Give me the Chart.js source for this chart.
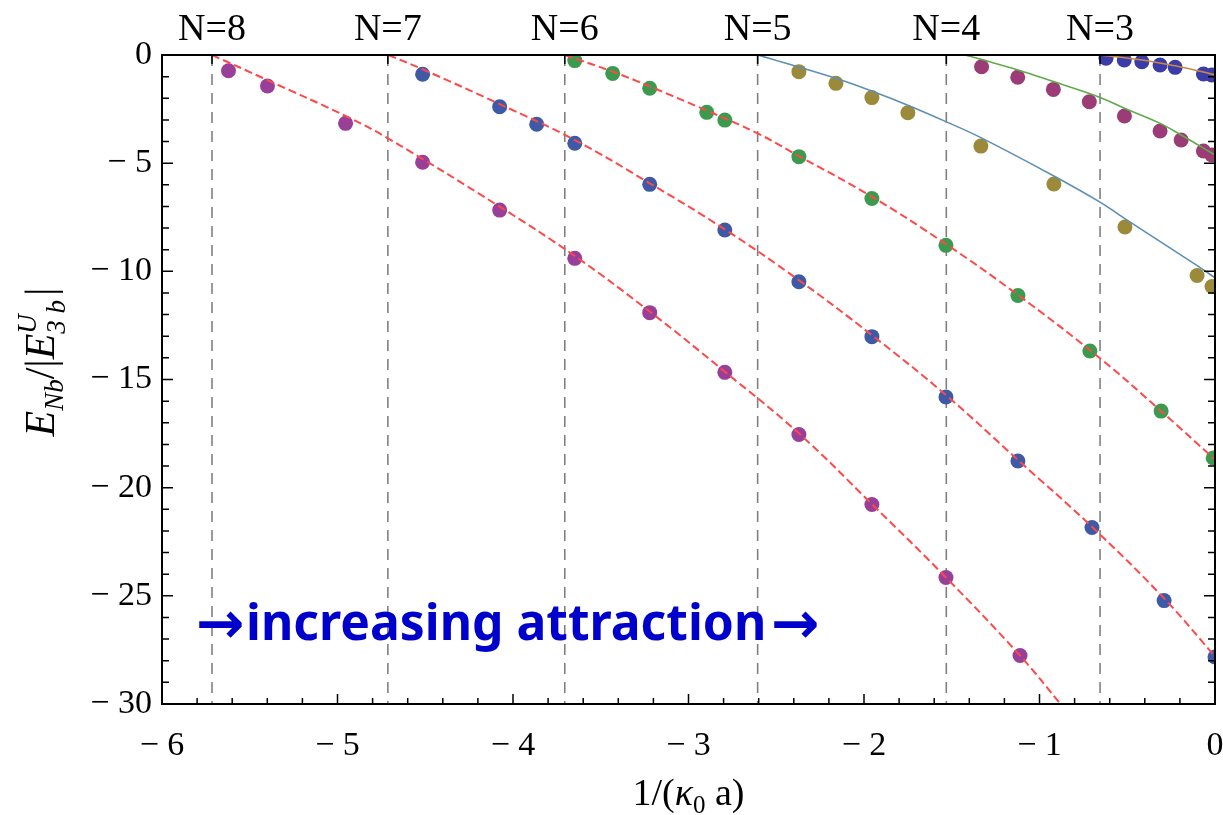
<!DOCTYPE html>
<html>
<head>
<meta charset="utf-8">
<script src="https://cdn.jsdelivr.net/npm/chart.js@4.4.1/dist/chart.umd.min.js"></script>
<style>
  body { margin: 0; background: #fff; }
</style>
</head>
<body>
<canvas id="chart" width="1223" height="815"></canvas>
<script>
// thresholds (dashed verticals) and their labels on top
const thresholdX = [-5.715, -4.713, -3.705, -2.606, -1.531, -0.655];
const thresholdLabels = ["N=8", "N=7", "N=6", "N=5", "N=4", "N=3"];

// computed energies (dots)
const n8X = [-5.621, -5.399, -4.954, -4.515, -4.076, -3.648, -3.221, -2.793, -2.371, -1.955, -1.533, -1.111];
const n8Y = [-0.73, -1.43, -3.16, -4.96, -7.17, -9.40, -11.91, -14.67, -17.54, -20.78, -24.15, -27.76];
const n7X = [-4.515, -4.076, -3.865, -3.648, -3.221, -2.793, -2.371, -1.955, -1.533, -1.123, -0.701, -0.290, 0];
const n7Y = [-0.89, -2.39, -3.20, -4.08, -5.98, -8.09, -10.48, -13.02, -15.81, -18.77, -21.84, -25.22, -27.83];
const n6X = [-3.648, -3.432, -3.221, -2.896, -2.793, -2.371, -1.955, -1.533, -1.123, -0.713, -0.307, -0.01];
const n6Y = [-0.26, -0.85, -1.54, -2.65, -3.01, -4.70, -6.63, -8.80, -11.12, -13.68, -16.46, -18.63];
const n5X = [-2.371, -2.160, -1.955, -1.750, -1.334, -0.918, -0.513, -0.102, -0.017];
const n5Y = [-0.77, -1.31, -1.97, -2.67, -4.21, -5.96, -7.95, -10.19, -10.70];
const n4X = [-1.330, -1.124, -0.921, -0.716, -0.516, -0.313, -0.193, -0.066, -0.018];
const n4Y = [-0.54, -1.03, -1.59, -2.16, -2.82, -3.51, -3.93, -4.44, -4.62];
const n3X = [-0.621, -0.517, -0.417, -0.313, -0.227, -0.066, -0.018];
const n3Y = [-0.15, -0.23, -0.31, -0.46, -0.57, -0.88, -0.92];

// fitted curves
const fit8X = [-5.715, -5.399, -4.954, -4.713, -4.076, -3.648, -3.221, -2.793, -2.371, -1.955, -1.533, -1.111, -0.88];
const fit8Y = [0, -1.16, -2.82, -3.85, -7.01, -9.29, -11.86, -14.64, -17.49, -20.76, -24.15, -27.76, -30.0];
const fit7X = [-4.71, -4.515, -4.076, -3.648, -3.221, -2.793, -2.371, -1.955, -1.533, -1.123, -0.701, -0.290, 0];
const fit7Y = [0, -0.66, -2.27, -3.93, -5.93, -8.06, -10.41, -12.95, -15.72, -18.72, -21.81, -25.12, -27.8];
const fit6X = [-3.705, -3.432, -3.221, -2.896, -2.607, -2.371, -1.955, -1.533, -1.123, -0.655, -0.313, 0];
const fit6Y = [0, -0.77, -1.45, -2.57, -3.62, -4.67, -6.55, -8.74, -11.09, -14.02, -16.42, -18.7];
const fit5X = [-2.605, -2.183, -1.938, -1.75, -1.533, -1.334, -0.921, -0.655, -0.516, -0.108, 0];
const fit5Y = [0, -1.02, -1.72, -2.32, -3.08, -3.82, -5.58, -6.80, -7.55, -9.70, -10.30];
const fit4X = [-1.425, -1.334, -1.123, -0.921, -0.655, -0.516, -0.313, -0.193, 0];
const fit4Y = [0, -0.2, -0.69, -1.23, -1.96, -2.46, -3.16, -3.70, -4.62];
const fit3X = [-0.655, -0.416, -0.227, -0.066, 0];
const fit3Y = [0, -0.23, -0.50, -0.79, -0.92];

const serif = "'Liberation Serif', 'DejaVu Serif', serif";

function pts(xs, ys) {
  return xs.map((x, i) => ({ x: x, y: ys[i] }));
}

function dots(xs, ys, color) {
  return {
    data: pts(xs, ys),
    showLine: false,
    pointRadius: 7.5,
    pointBackgroundColor: color,
    pointBorderWidth: 0,
    order: 1,
    clip: 0,
  };
}

function curve(xs, ys, color, dashed) {
  return {
    data: pts(xs, ys),
    showLine: true,
    borderColor: color,
    borderWidth: dashed ? 2 : 1.6,
    borderDash: dashed ? [8, 4] : [],
    pointRadius: 0,
    tension: 0.4,
    order: 0,
    clip: 0,
  };
}

const datasets = [];
thresholdX.forEach((x) => {
  datasets.push({
    data: [{ x: x, y: 0 }, { x: x, y: -30 }],
    showLine: true,
    borderColor: "#808080",
    borderWidth: 1.6,
    borderDash: [11, 8],
    pointRadius: 0,
    order: 2,
  });
});
datasets.push(dots(n8X, n8Y, "#983f99"));
datasets.push(dots(n7X, n7Y, "#3e5aa6"));
datasets.push(dots(n6X, n6Y, "#3c9a4f"));
datasets.push(dots(n5X, n5Y, "#9c8a3b"));
datasets.push(dots(n4X, n4Y, "#9b3c76"));
datasets.push(dots(n3X, n3Y, "#3c3ca8"));
datasets.push(curve(fit8X, fit8Y, "#ff4848", true));
datasets.push(curve(fit7X, fit7Y, "#ff4848", true));
datasets.push(curve(fit6X, fit6Y, "#ff4848", true));
datasets.push(curve(fit5X, fit5Y, "#5d8fb3", false));
datasets.push(curve(fit4X, fit4Y, "#5fab4a", false));
datasets.push(curve(fit3X, fit3Y, "#c98a45", false));

// draws a row of text pieces (for sub/superscripts), centred at 0
function richText(ctx, pieces) {
  let total = 0;
  pieces.forEach((p) => {
    ctx.font = p.font;
    p.w = p.w || ctx.measureText(p.text).width;
    total += p.adv !== undefined ? p.adv : p.w;
  });
  let x = -total / 2;
  pieces.forEach((p) => {
    ctx.font = p.font;
    ctx.fillText(p.text, x, p.dy || 0);
    x += p.adv !== undefined ? p.adv : p.w;
  });
}

const decor = {
  id: "decor",
  afterDraw(chart) {
    const ctx = chart.ctx;
    const a = chart.chartArea;
    const xs = chart.scales.x;
    const ys = chart.scales.y;
    ctx.save();
    ctx.strokeStyle = "#000";
    ctx.lineWidth = 2;
    ctx.strokeRect(a.left, a.top, a.right - a.left, a.bottom - a.top);

    // inward ticks
    ctx.lineWidth = 1.5;
    ctx.beginPath();
    for (let i = 0; i <= 30; i++) {
      const v = -6 + i * 0.2;
      const px = xs.getPixelForValue(v);
      const len = i % 5 === 0 ? 10 : 6;
      ctx.moveTo(px, a.bottom);
      ctx.lineTo(px, a.bottom - len);
    }
    for (let i = 0; i <= 30; i++) {
      const py = ys.getPixelForValue(-i);
      const len = i % 5 === 0 ? 11 : 7;
      ctx.moveTo(a.left, py);
      ctx.lineTo(a.left + len, py);
      ctx.moveTo(a.right, py);
      ctx.lineTo(a.right - len, py);
    }
    thresholdX.forEach((x) => {
      const px = xs.getPixelForValue(x);
      ctx.moveTo(px, a.top);
      ctx.lineTo(px, a.top + 9);
    });
    ctx.stroke();

    // N labels on top
    ctx.fillStyle = "#000";
    ctx.textAlign = "center";
    ctx.textBaseline = "alphabetic";
    ctx.font = "38px " + serif;
    thresholdX.forEach((x, i) => {
      ctx.fillText(thresholdLabels[i], xs.getPixelForValue(x), 40);
    });

    // x axis title
    ctx.textAlign = "left";
    ctx.save();
    ctx.translate((a.left + a.right) / 2, 805);
    richText(ctx, [
      { text: "1/(", font: "38px " + serif },
      { text: "\u03ba", font: "italic 38px " + serif },
      { text: "0", font: "25px " + serif, dy: 8 },
      { text: " a)", font: "38px " + serif },
    ]);
    ctx.restore();

    // y axis title
    ctx.save();
    ctx.translate(54, 362);
    ctx.rotate(-Math.PI / 2);
    ctx.font = "italic 27px " + serif;
    const wU = ctx.measureText("U").width;
    const w3b = ctx.measureText("3 b").width;
    richText(ctx, [
      { text: "E", font: "italic 42px " + serif },
      { text: "Nb", font: "italic 27px " + serif, dy: 9 },
      { text: "/|", font: "42px " + serif },
      { text: "E", font: "italic 42px " + serif },
      { text: "U", font: "italic 27px " + serif, dy: -18, adv: 0 },
      { text: "3 b", font: "italic 27px " + serif, dy: 11, adv: Math.max(wU, w3b) + 4 },
      { text: "|", font: "42px " + serif },
    ]);
    ctx.restore();

    // annotation: arrow, words, arrow
    ctx.fillStyle = "#0000cc";
    ctx.textBaseline = "alphabetic";
    ctx.textAlign = "left";
    const words = "increasing attraction";
    ctx.font = "bold 46px 'Noto Sans', sans-serif";
    const w = ctx.measureText(words).width;
    const size = 46 * 520 / w;
    ctx.font = "bold " + size.toFixed(1) + "px 'Noto Sans', sans-serif";
    ctx.fillText(words, 246, 640);
    ctx.font = "bold 58px 'DejaVu Sans', sans-serif";
    ctx.textAlign = "center";
    ctx.fillText("\u2192", 220, 643);
    ctx.fillText("\u2192", 795, 643);
    ctx.restore();
  },
};

new Chart(document.getElementById("chart"), {
  type: "scatter",
  data: { datasets: datasets },
  options: {
    responsive: false,
    animation: false,
    events: [],
    layout: { padding: { top: 55, right: 8, left: 0, bottom: 0 } },
    plugins: { legend: { display: false }, tooltip: { enabled: false } },
    scales: {
      x: {
        type: "linear",
        min: -6,
        max: 0,
        grid: { display: false, drawTicks: false },
        border: { display: false },
        ticks: {
          stepSize: 1,
          padding: 22,
          color: "#000",
          font: { family: serif, size: 34 },
          maxRotation: 0,
          callback: (v) => (v === 0 ? "0" : "\u2212 " + Math.abs(v)),
        },
        afterFit: (s) => {
          s.height = 111;
          s.paddingLeft = 0;
          s.paddingRight = 0;
        },
      },
      y: {
        type: "linear",
        min: -30,
        max: 0,
        grid: { display: false, drawTicks: false },
        border: { display: false },
        ticks: {
          stepSize: 5,
          padding: 10,
          color: "#000",
          font: { family: serif, size: 34 },
          callback: (v) => (v === 0 ? "0" : "\u2212 " + Math.abs(v)),
        },
        afterFit: (s) => {
          s.width = 162;
          s.paddingTop = 0;
          s.paddingBottom = 0;
        },
      },
    },
  },
  plugins: [decor],
});
</script>
</body>
</html>
